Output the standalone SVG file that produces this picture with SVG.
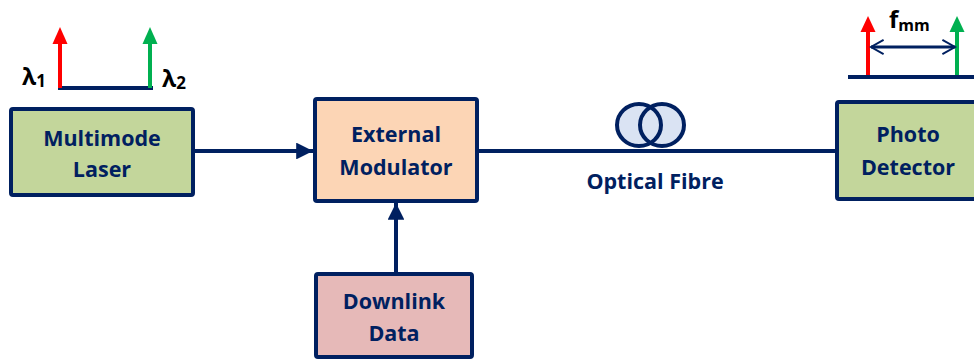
<svg xmlns="http://www.w3.org/2000/svg" width="974" height="360" viewBox="0 0 974 360">
  <defs>
    <style>
      .box { stroke: #002060; stroke-width: 4; }
      .lbl { font-family: "Open Sans", "Liberation Sans", sans-serif; font-weight: 700; font-size: 21.5px; fill: #002060; text-anchor: middle; }
      .wire { stroke: #002060; stroke-width: 4; fill: none; }
      .sym { font-family: "Open Sans", "Liberation Sans", sans-serif; font-weight: 700; fill: #000; }
      .coil { stroke: #002060; stroke-width: 4; fill: none; }
    </style>
    <marker id="head" viewBox="0 0 10 10" refX="10" refY="5" markerWidth="4.2" markerHeight="4.2" markerUnits="strokeWidth" orient="auto">
      <path d="M0,0 L10,5 L0,10 Z" fill="#002060"/>
    </marker>
    <marker id="open" viewBox="0 0 10 10" refX="9" refY="5" markerWidth="6" markerHeight="6" markerUnits="strokeWidth" orient="auto-start-reverse">
      <path d="M2,1 L9,5 L2,9" fill="none" stroke="#002060" stroke-width="1.1"/>
    </marker>
  </defs>

  <!-- connectors -->
  <g id="connectors">
    <line class="wire" x1="195" y1="151" x2="313" y2="151" marker-end="url(#head)"/>
    <line class="wire" x1="396" y1="272" x2="396" y2="203" marker-end="url(#head)"/>
    <line class="wire" x1="479" y1="151" x2="836" y2="151"/>
  </g>

  <!-- fibre coil -->
  <g id="fibre">
    <ellipse cx="639" cy="125" rx="22" ry="21" fill="#dae3f3"/>
    <ellipse cx="662" cy="125" rx="22" ry="21" fill="#dae3f3"/>
    <ellipse class="coil" cx="639" cy="125" rx="22" ry="21"/>
    <ellipse class="coil" cx="662" cy="125" rx="22" ry="21"/>
    <text class="lbl" x="655" y="189">Optical Fibre</text>
  </g>

  <g id="laser">
    <rect class="box" x="11" y="109" width="182" height="86" rx="2" fill="#c3d69b"/>
    <text class="lbl" x="102" y="146">Multimode</text>
    <text class="lbl" x="102" y="177">Laser</text>
  </g>

  <g id="modulator">
    <rect class="box" x="315" y="99" width="162" height="102" rx="2" fill="#fcd5b5"/>
    <text class="lbl" x="396" y="142">External</text>
    <text class="lbl" x="396" y="175">Modulator</text>
  </g>

  <g id="data">
    <rect class="box" x="316" y="274" width="156" height="83" rx="2" fill="#e6b9b8"/>
    <text class="lbl" x="394" y="309">Downlink</text>
    <text class="lbl" x="394" y="341">Data</text>
  </g>

  <g id="detector">
    <rect class="box" x="837" y="102" width="146" height="97" rx="2" fill="#c3d69b"/>
    <text class="lbl" x="908" y="142">Photo</text>
    <text class="lbl" x="908" y="175">Detector</text>
  </g>

  <!-- laser output spectrum -->
  <g id="spectrum-in">
    <line x1="58" y1="88" x2="153" y2="88" stroke="#002060" stroke-width="4"/>
    <line x1="60" y1="88" x2="60" y2="42" stroke="#ff0000" stroke-width="4"/>
    <path d="M52.5,44 L60,27 L67.5,44 Z" fill="#ff0000"/>
    <line x1="150" y1="88" x2="150" y2="42" stroke="#00b050" stroke-width="4"/>
    <path d="M142.5,44 L150,27 L157.5,44 Z" fill="#00b050"/>
    <text class="sym" x="22" y="85" font-size="23">λ<tspan font-size="17" dy="2">1</tspan></text>
    <text class="sym" x="162" y="87" font-size="23">λ<tspan font-size="17" dy="2">2</tspan></text>
  </g>

  <!-- detected spectrum -->
  <g id="spectrum-out">
    <line x1="848" y1="77" x2="974" y2="77" stroke="#002060" stroke-width="4"/>
    <line x1="868" y1="75" x2="868" y2="30" stroke="#ff0000" stroke-width="4"/>
    <path d="M860.5,32 L868,16 L875.5,32 Z" fill="#ff0000"/>
    <line x1="957" y1="75" x2="957" y2="30" stroke="#00b050" stroke-width="4"/>
    <path d="M949.5,32 L957,16 L964.5,32 Z" fill="#00b050"/>
    <line x1="871" y1="47" x2="955" y2="47" stroke="#002060" stroke-width="3" marker-start="url(#open)" marker-end="url(#open)"/>
    <text class="sym" x="889" y="28" font-size="24">f<tspan font-size="16" dy="3">mm</tspan></text>
  </g>
</svg>
